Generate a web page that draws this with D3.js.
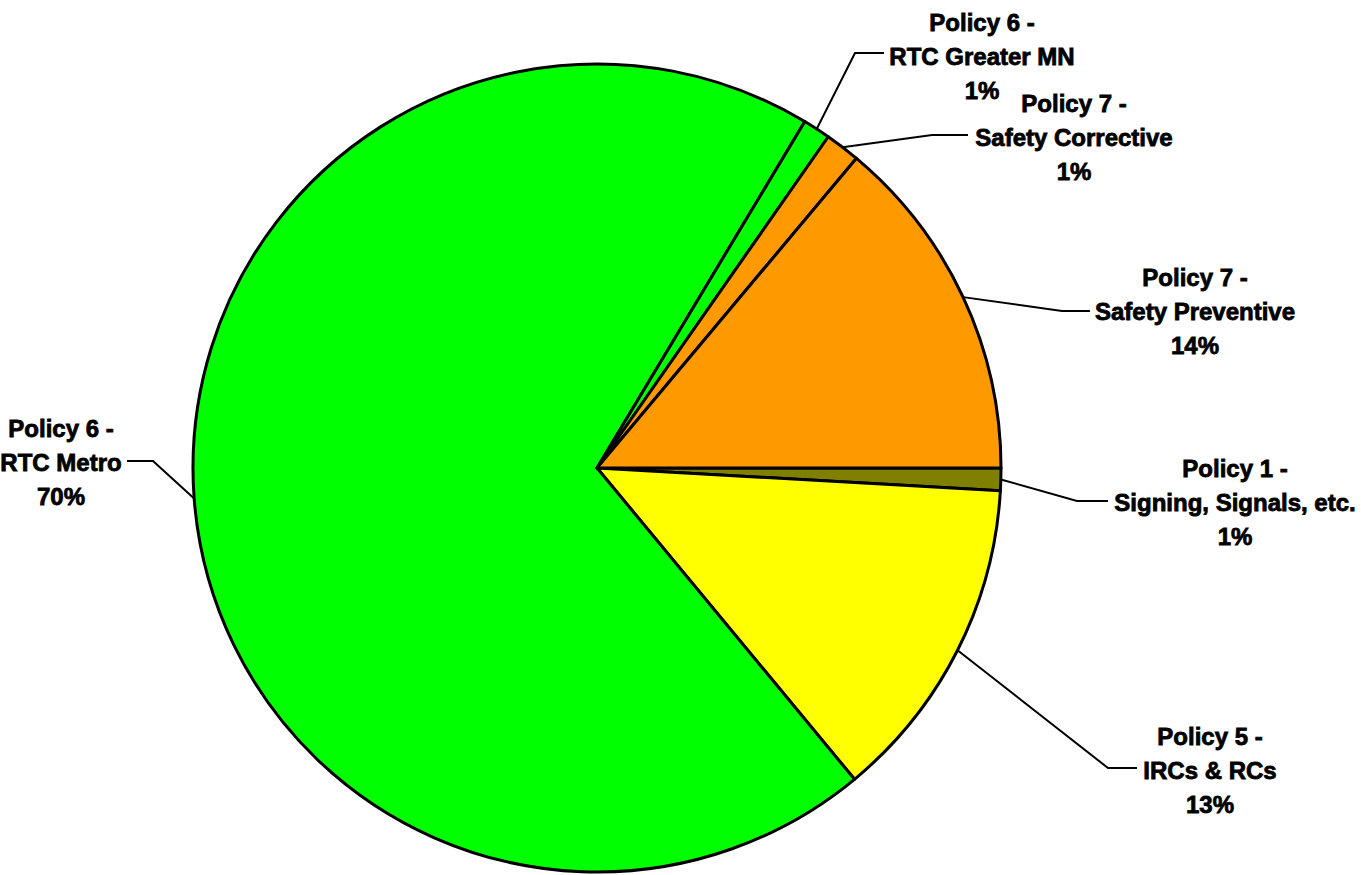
<!DOCTYPE html>
<html>
<head>
<meta charset="utf-8">
<script src="https://cdn.jsdelivr.net/npm/d3@7"></script>
<style>
	body { margin: 0; background: #fff; }
	text { font-family: "Liberation Sans", Arial, sans-serif; font-weight: bold; font-size: 24px; fill: #000; stroke: #000; stroke-width: 0.8px; }
</style>
</head>
<body>
<div id="chart"></div>
<script>
// data, clockwise from 3 o'clock
var titles = ["Policy 1 -", "Policy 5 -", "Policy 6 -", "Policy 6 -", "Policy 7 -", "Policy 7 -"];
var names = ["Signing, Signals, etc.", "IRCs & RCs", "RTC Metro", "RTC Greater MN", "Safety Corrective", "Safety Preventive"];
var shares = [0.9, 13.1, 69.6, 1.1, 1.4, 13.9];
var colours = ["#808000", "#ffff00", "#00ff00", "#00ff00", "#ff9900", "#ff9900"];

// where each label and its leader line sit
var labelLayout = [
	{elbow: [1077, 501], end: [1108, 501], tx: 1235, ty: 502},
	{elbow: [1108, 768], end: [1137, 768], tx: 1210, ty: 770},
	{elbow: [153, 461], end: [127, 461], tx: 61, ty: 462},
	{elbow: [855, 53], end: [884, 53], tx: 982, ty: 56},
	{elbow: [932, 135], end: [968, 135], tx: 1074, ty: 137},
	{elbow: [1062, 311], end: [1090, 311], tx: 1195, ty: 311}
];

const width = 1361;
const height = 875;
const cx = 597;
const cy = 468;
const radius = 404;
const lineGap = 34;

let slices = [];
for (let i = 0; i < shares.length; i++) {
	slices.push({title: titles[i], name: names[i], val: shares[i], colour: colours[i], layout: labelLayout[i]});
}

const pie = d3.pie()
	.sort(null)
	.value(function(d) { return d.val; })
	.startAngle(Math.PI / 2)
	.endAngle(Math.PI / 2 + 2 * Math.PI);

const arc = d3.arc().innerRadius(0).outerRadius(radius);

const svg = d3.select('#chart')
	.append('svg')
		.attr('width', width)
		.attr('height', height);

const canvas = svg.append('g')
	.attr('transform', `translate(${cx}, ${cy})`);

const arcs = pie(slices);

// the slices
canvas.selectAll('path.slice')
	.data(arcs)
	.enter()
		.append('path')
			.attr('class', 'slice')
			.attr('d', arc)
			.attr('fill', (d) => d.data.colour)
			.attr('stroke', '#000')
			.attr('stroke-width', 3)
			.attr('stroke-linejoin', 'round');

// leader lines, from the rim at each slice's middle
svg.selectAll('polyline.leader')
	.data(arcs)
	.enter()
		.append('polyline')
			.attr('class', 'leader')
			.attr('fill', 'none')
			.attr('stroke', '#000')
			.attr('stroke-width', 2)
			.attr('points', function(d) {
				let a = (d.startAngle + d.endAngle) / 2;
				let x0 = cx + radius * Math.sin(a);
				let y0 = cy - radius * Math.cos(a);
				let l = d.data.layout;
				return [[x0, y0], l.elbow, l.end].map((p) => p.join(',')).join(' ');
			});

// labels
const labels = svg.selectAll('text.label')
	.data(arcs)
	.enter()
		.append('text')
			.attr('class', 'label')
			.attr('text-anchor', 'middle');

labels.each(function(d) {
	let t = d3.select(this);
	let l = d.data.layout;
	let lines = [d.data.title, d.data.name, Math.round(d.data.val) + '%'];
	for (let i = 0; i < lines.length; i++) {
		t.append('tspan')
			.attr('x', l.tx)
			.attr('y', l.ty + (i - 1) * lineGap + 8.5)
			.text(lines[i]);
	}
});
</script>
</body>
</html>
